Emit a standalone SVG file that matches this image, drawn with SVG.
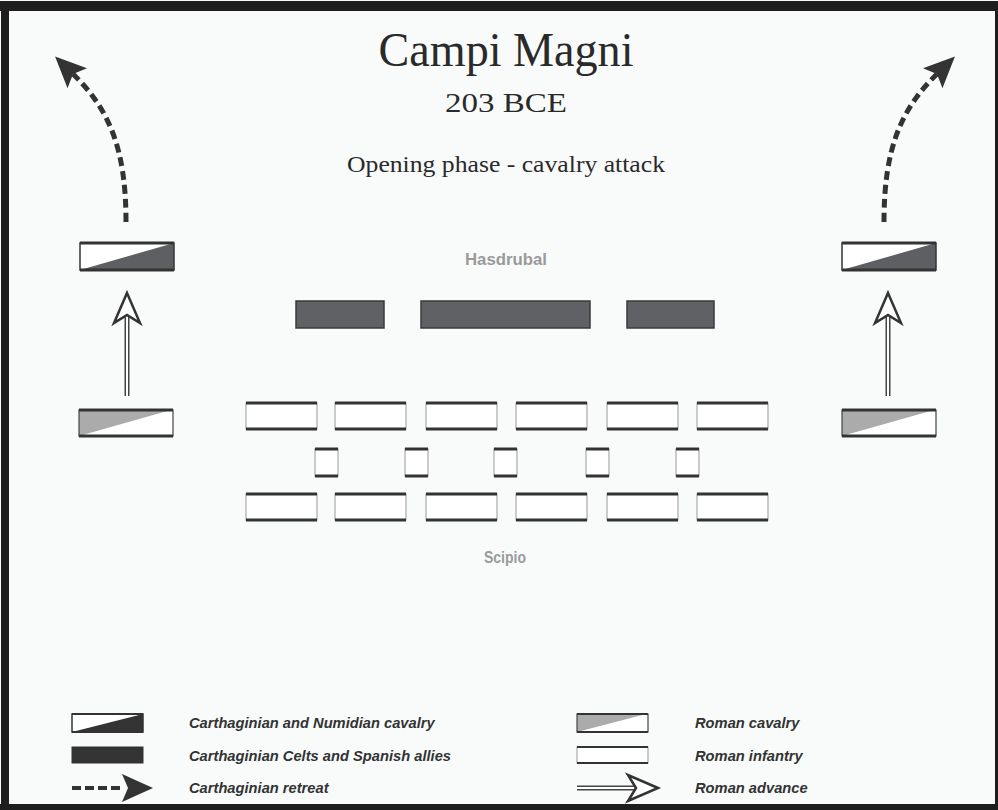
<svg xmlns="http://www.w3.org/2000/svg" xmlns:xlink="http://www.w3.org/1999/xlink" width="998" height="810" viewBox="0 0 998 810">
<style>
.title{font-family:"Liberation Serif","DejaVu Serif",serif;fill:#2a2a2a;text-anchor:middle}
.lbl{font-family:"Liberation Sans",Arial,sans-serif;font-weight:bold;fill:#9a9a9a;font-size:16px;text-anchor:middle}
.leg{font-family:"Liberation Sans",Arial,sans-serif;font-weight:bold;font-style:italic;fill:#333;font-size:14.7px}
.celt{fill:#606165;stroke:#3a3a3a;stroke-width:1.5}
.edge{stroke:#333;stroke-width:3}
.side{fill:#fff;stroke:#aaa;stroke-width:1.2}
.retreat{fill:none;stroke:#333;stroke-width:5;stroke-dasharray:9 5}
.adv-out{stroke:#444;stroke-width:5;fill:none}
.adv-in{stroke:#fff;stroke-width:2;fill:none}
.adv-head{fill:#fff;stroke:#333;stroke-width:2.5;stroke-linejoin:miter}
</style>
<defs>
<marker id="retreatHead" viewBox="0 0 31 28" markerWidth="31" markerHeight="28" markerUnits="userSpaceOnUse" refX="6" refY="14" orient="auto">
<path d="M0,0 L31,14 L0,28 L6,14 Z" fill="#333"/>
</marker>
<g id="inf">
<rect class="side" x="0" y="0" width="71" height="26"/>
<line class="edge" x1="0" y1="0" x2="71" y2="0"/>
<line class="edge" x1="0" y1="26" x2="71" y2="26"/>
</g>
<g id="sq">
<rect class="side" x="0" y="0" width="23" height="27"/>
<line class="edge" x1="0" y1="0" x2="23" y2="0"/>
<line class="edge" x1="0" y1="27" x2="23" y2="27"/>
</g>
<g id="ccav">
<rect x="0" y="0" width="94" height="27" fill="#fff"/>
<polygon points="0,27 94,0 94,27" fill="#5e5f63"/>
<rect x="0" y="0" width="94" height="27" fill="none" stroke="#333" stroke-width="1.5"/>
<line class="edge" x1="0" y1="0" x2="94" y2="0"/>
<line class="edge" x1="0" y1="27" x2="94" y2="27"/>
</g>
<g id="rcav">
<rect x="0" y="0" width="94" height="26" fill="#fff"/>
<polygon points="0,0 92,0 0,26" fill="#ababab"/>
<rect x="0" y="0" width="94" height="26" fill="none" stroke="#444" stroke-width="1.2"/>
<line class="edge" x1="0" y1="0" x2="94" y2="0"/>
<line class="edge" x1="0" y1="26" x2="94" y2="26"/>
</g>
</defs>

<rect x="0" y="0" width="998" height="810" fill="#f9fbfb"/>
<g id="frame" fill="#1e1e1e">
<rect x="0" y="1" width="998" height="10"/>
<rect x="1" y="1" width="8" height="809"/>
<rect x="0" y="804" width="998" height="6"/>
<rect x="995" y="1" width="3" height="809"/>
</g>

<g id="titles">
<text class="title" x="506" y="66" font-size="48" textLength="255" lengthAdjust="spacingAndGlyphs">Campi Magni</text>
<text class="title" x="506" y="112" font-size="27" textLength="122" lengthAdjust="spacingAndGlyphs">203 BCE</text>
<text class="title" x="506" y="172" font-size="24" textLength="318" lengthAdjust="spacingAndGlyphs">Opening phase - cavalry attack</text>
</g>

<g id="label-hasdrubal"><text class="lbl" x="506" y="265" textLength="82" lengthAdjust="spacingAndGlyphs">Hasdrubal</text></g>
<g id="label-scipio"><text class="lbl" x="505" y="563" textLength="42" lengthAdjust="spacingAndGlyphs">Scipio</text></g>

<g id="carth-infantry-left"><rect class="celt" x="296" y="301" width="88" height="27"/></g>
<g id="carth-infantry-center"><rect class="celt" x="421" y="301" width="169" height="27"/></g>
<g id="carth-infantry-right"><rect class="celt" x="627" y="301" width="87" height="27"/></g>

<g id="carth-cav-left"><use xlink:href="#ccav" x="80" y="243"/></g>
<g id="carth-cav-right"><use xlink:href="#ccav" x="842" y="243"/></g>
<g id="roman-cav-left"><use xlink:href="#rcav" x="79" y="410"/></g>
<g id="roman-cav-right"><use xlink:href="#rcav" x="842" y="410"/></g>

<g id="roman-hastati">
<use xlink:href="#inf" x="246" y="403"/>
<use xlink:href="#inf" x="335" y="403"/>
<use xlink:href="#inf" x="426" y="403"/>
<use xlink:href="#inf" x="516" y="403"/>
<use xlink:href="#inf" x="607" y="403"/>
<use xlink:href="#inf" x="697" y="403"/>
</g>
<g id="roman-principes">
<use xlink:href="#sq" x="315" y="449"/>
<use xlink:href="#sq" x="405" y="449"/>
<use xlink:href="#sq" x="494" y="449"/>
<use xlink:href="#sq" x="586" y="449"/>
<use xlink:href="#sq" x="676" y="449"/>
</g>
<g id="roman-triarii">
<use xlink:href="#inf" x="246" y="494"/>
<use xlink:href="#inf" x="335" y="494"/>
<use xlink:href="#inf" x="426" y="494"/>
<use xlink:href="#inf" x="516" y="494"/>
<use xlink:href="#inf" x="607" y="494"/>
<use xlink:href="#inf" x="697" y="494"/>
</g>

<g id="connectors">
<path class="retreat" d="M126,222 C126,150 110,110 73,74" marker-end="url(#retreatHead)"/>
<path class="retreat" d="M884,222 C884,150 900,110 937,74" marker-end="url(#retreatHead)"/>
<line class="adv-out" x1="127" y1="396" x2="127" y2="316"/>
<line class="adv-in" x1="127" y1="397" x2="127" y2="316"/>
<polygon class="adv-head" points="127,293 140,323 127,315 114,323"/>
<line class="adv-out" x1="888" y1="396" x2="888" y2="316"/>
<line class="adv-in" x1="888" y1="397" x2="888" y2="316"/>
<polygon class="adv-head" points="888,293 901,323 888,315 875,323"/>
</g>

<g id="legend">
<g id="legend-carth-cav">
<rect x="72" y="714" width="71" height="18" fill="#fff"/>
<polygon points="72,732 143,714 143,732" fill="#333"/>
<rect x="72" y="714" width="71" height="18" fill="none" stroke="#333" stroke-width="1.5"/>
<line class="edge" x1="72" y1="714" x2="143" y2="714" style="stroke-width:2"/>
<line class="edge" x1="72" y1="732" x2="143" y2="732" style="stroke-width:2"/>
<text class="leg" x="189" y="728">Carthaginian and Numidian cavalry</text>
</g>
<g id="legend-celts">
<rect x="72" y="747" width="71" height="16" fill="#333" stroke="#333" stroke-width="1"/>
<text class="leg" x="189" y="761">Carthaginian Celts and Spanish allies</text>
</g>
<g id="legend-retreat">
<line x1="72" y1="788" x2="124" y2="788" stroke="#333" stroke-width="4" stroke-dasharray="9 4"/>
<path d="M122,774 L153,788 L122,802 L128,788 Z" fill="#333"/>
<text class="leg" x="189" y="793">Carthaginian retreat</text>
</g>
<g id="legend-roman-cav">
<rect x="577" y="714" width="71" height="18" fill="#fff"/>
<polygon points="577,714 646,714 577,732" fill="#ababab"/>
<rect x="577" y="714" width="71" height="18" fill="none" stroke="#444" stroke-width="1.2"/>
<line class="edge" x1="577" y1="714" x2="648" y2="714" style="stroke-width:2"/>
<line class="edge" x1="577" y1="732" x2="648" y2="732" style="stroke-width:2"/>
<text class="leg" x="695" y="728">Roman cavalry</text>
</g>
<g id="legend-roman-inf">
<rect x="577" y="747" width="71" height="16" fill="#fff" stroke="#aaa" stroke-width="1.2"/>
<line class="edge" x1="577" y1="747" x2="648" y2="747" style="stroke-width:2"/>
<line class="edge" x1="577" y1="763" x2="648" y2="763" style="stroke-width:2"/>
<text class="leg" x="695" y="761">Roman infantry</text>
</g>
<g id="legend-advance">
<line class="adv-out" x1="577" y1="788" x2="636" y2="788"/>
<line class="adv-in" x1="576" y1="788" x2="636" y2="788"/>
<polygon class="adv-head" points="658,788 628,775 636,788 628,801"/>
<text class="leg" x="695" y="793">Roman advance</text>
</g>
</g>
</svg>
